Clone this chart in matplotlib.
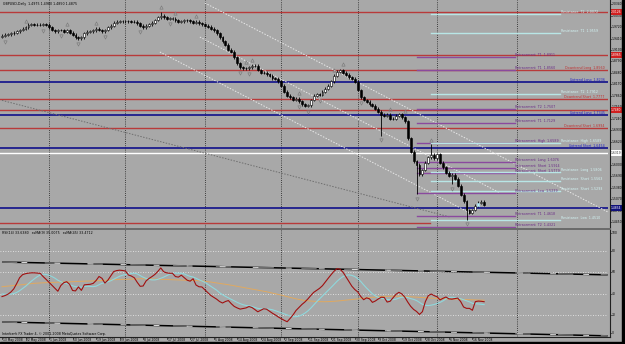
import matplotlib
matplotlib.use("Agg")
import matplotlib.pyplot as plt
from matplotlib.patches import Rectangle
from matplotlib.lines import Line2D
from matplotlib.transforms import blended_transform_factory

# ---------------- data ----------------
title_text = "GBPUSD,Daily  1.4975 1.4980 1.4850 1.4875"
rsi_title = "RSI(14) 33.6380   ssMA(9) 35.0075   ssMA(45) 33.4712"
copyright_text = "Interbank FX Trader 4, \u00a9 2001-2008 MetaQuotes Software Corp."

first_open = 1.946
closes = [
    1.948, 1.951, 1.952, 1.955, 1.957, 1.961, 1.964, 1.968, 1.972, 1.978,
    1.980, 1.978, 1.978, 1.978, 1.979, 1.978, 1.971, 1.964, 1.961, 1.964,
    1.964, 1.959, 1.964, 1.956, 1.951, 1.945, 1.942, 1.945, 1.955, 1.959,
    1.960, 1.963, 1.967, 1.964, 1.960, 1.964, 1.971, 1.975, 1.983, 1.986,
    1.987, 1.988, 1.988, 1.988, 1.986, 1.986, 1.982, 1.975, 1.972, 1.975,
    1.979, 1.983, 1.991, 1.998, 2.002, 1.999, 1.995, 1.995, 1.995, 1.990,
    1.986, 1.988, 1.990, 1.990, 1.987, 1.983, 1.986, 1.982, 1.979, 1.976,
    1.973, 1.967, 1.963, 1.955, 1.945, 1.934, 1.924, 1.911, 1.905, 1.890,
    1.874, 1.864, 1.861, 1.861, 1.864, 1.868, 1.867, 1.856, 1.849, 1.848,
    1.845, 1.840, 1.834, 1.832, 1.826, 1.813, 1.797, 1.787, 1.783, 1.776,
    1.779, 1.772, 1.763, 1.759, 1.761, 1.775, 1.786, 1.790, 1.789, 1.797,
    1.806, 1.814, 1.826, 1.841, 1.851, 1.856, 1.849, 1.843, 1.837, 1.832,
    1.824, 1.802, 1.783, 1.775, 1.770, 1.763, 1.759, 1.751, 1.743, 1.735,
    1.732, 1.735, 1.724, 1.724, 1.732, 1.737, 1.729, 1.718, 1.672, 1.635,
    1.610, 1.600, 1.575, 1.586, 1.605, 1.621, 1.627, 1.618, 1.629, 1.605,
    1.594, 1.578, 1.570, 1.573, 1.562, 1.543, 1.519, 1.502, 1.478, 1.470,
    1.478, 1.489, 1.497, 1.500, 1.492,
]
high_override = {54: 2.013, 146: 1.656}
low_override = {129: 1.678, 141: 1.521, 153: 1.548, 158: 1.451}
fractal_up = [8, 22, 32, 54, 59, 66, 83, 85, 101, 113, 116, 132, 137, 146]
fractal_down = [1, 14, 20, 26, 35, 47, 57, 81, 84, 101, 104, 108, 122, 129, 141, 153, 158]
highlight_bar = 162

rsi = [
    37.3, 38.2, 39.5, 41.5, 44.5, 49.5, 55.0, 57.8, 58.7, 59.2,
    59.5, 59.5, 59.3, 59.0, 56.0, 53.4, 50.6, 47.8, 45.1, 42.3,
    47.6, 50.3, 51.2, 48.7, 43.0, 42.6, 46.4, 43.1, 48.3, 48.5,
    48.8, 49.6, 52.3, 56.1, 54.4, 49.9, 52.6, 56.7, 60.7, 61.6,
    62.0, 61.7, 61.2, 57.5, 56.5, 54.9, 50.6, 46.9, 47.2, 51.9,
    54.2, 56.0, 58.0, 60.8, 64.1, 60.5, 59.5, 59.1, 59.1, 56.0,
    55.5, 57.3, 55.0, 52.6, 51.7, 54.0, 48.1, 46.5, 46.3, 43.7,
    41.2, 38.4, 36.7, 34.9, 32.7, 31.3, 32.7, 33.6, 30.6, 28.1,
    26.7, 25.6, 26.1, 26.7, 28.0, 27.1, 25.2, 23.1, 24.5, 25.9,
    25.5, 23.6, 21.7, 20.1, 18.2, 16.6, 15.1, 13.8, 16.9, 20.2,
    24.3, 27.1, 29.9, 32.2, 35.0, 38.2, 41.2, 43.1, 45.0, 47.5,
    51.1, 54.6, 58.0, 61.2, 63.4, 62.8, 60.1, 55.8, 51.4, 47.0,
    43.9, 41.7, 37.5, 34.4, 36.1, 35.2, 31.9, 33.2, 35.1, 36.7,
    36.5, 32.2, 32.9, 36.1, 39.4, 41.3, 39.8, 36.8, 32.2, 28.2,
    25.3, 23.4, 20.6, 23.2, 32.6, 38.2, 39.7, 38.2, 37.1, 34.2,
    35.7, 36.9, 35.2, 34.9, 35.4, 35.9, 32.7, 27.6, 26.3, 26.3,
    24.5, 32.6, 33.1, 32.9, 32.5,
]
ma9 = [
    39.7, 39.5, 39.4, 39.6, 40.1, 41.2, 42.8, 44.8, 46.9, 49.3,
    51.7, 53.9, 55.9, 57.5, 58.2, 58.0, 57.2, 56.0, 54.5, 52.6,
    51.2, 50.2, 49.4, 48.6, 47.4, 46.5, 46.4, 46.1, 46.8, 46.9,
    46.7, 46.6, 47.0, 48.4, 49.7, 50.1, 51.2, 52.1, 53.5, 54.9,
    56.3, 57.3, 57.9, 58.2, 58.9, 59.2, 58.5, 57.0, 55.4, 54.3,
    53.4, 52.9, 52.9, 53.4, 54.4, 55.5, 56.9, 58.2, 59.0, 59.2,
    59.2, 59.1, 58.5, 57.2, 56.2, 55.6, 54.4, 53.0, 51.9, 50.6,
    48.8, 46.9, 45.2, 43.3, 40.9, 39.1, 37.5, 36.1, 34.7, 33.2,
    31.9, 30.7, 29.7, 29.0, 28.7, 28.1, 27.1, 26.3, 25.9, 25.8,
    25.8, 25.5, 25.0, 24.1, 23.1, 22.1, 21.2, 20.1, 19.1, 18.5,
    18.5, 19.1, 20.2, 21.8, 23.8, 26.4, 29.4, 32.4, 35.1, 37.7,
    40.4, 43.1, 46.0, 48.9, 51.7, 54.1, 56.0, 57.2, 57.6, 57.1,
    56.0, 54.1, 51.5, 48.3, 45.3, 42.6, 39.9, 37.9, 36.6, 35.8,
    35.2, 34.6, 34.4, 34.4, 34.9, 35.9, 36.7, 36.9, 36.4, 35.4,
    34.7, 33.6, 31.9, 30.1, 29.1, 28.9, 29.3, 29.9, 30.9, 31.9,
    33.3, 35.1, 36.4, 36.7, 36.4, 35.9, 35.3, 34.3, 33.4, 32.4,
    31.0, 30.7, 30.5, 30.2, 29.8,
]
ma45 = [
    46.5, 46.8, 47.1, 47.4, 47.7, 48.0, 48.3, 48.6, 48.9, 49.2,
    49.5, 49.7, 49.9, 50.1, 50.2, 50.3, 50.4, 50.5, 50.6, 50.7,
    50.8, 50.9, 51.0, 51.1, 51.2, 51.3, 51.4, 51.5, 51.6, 51.7,
    51.8, 51.9, 52.0, 52.2, 52.4, 52.6, 52.8, 53.0, 53.1, 53.2,
    53.3, 53.4, 53.5, 53.6, 53.7, 53.8, 53.9, 54.0, 54.0, 54.0,
    53.9, 53.8, 53.7, 53.6, 53.5, 53.4, 53.3, 53.2, 53.1, 53.0,
    52.9, 52.8, 52.7, 52.6, 52.5, 52.4, 52.3, 52.2, 52.0, 51.7,
    51.3, 50.9, 50.5, 50.1, 49.7, 49.3, 48.9, 48.4, 47.9, 47.4,
    46.9, 46.4, 45.9, 45.4, 44.9, 44.4, 43.9, 43.4, 42.9, 42.4,
    41.8, 41.2, 40.6, 40.0, 39.3, 38.6, 37.9, 37.2, 36.5, 35.8,
    35.2, 34.6, 34.1, 33.7, 33.4, 33.1, 32.9, 32.7, 32.6, 32.5,
    32.5, 32.6, 32.7, 32.9, 33.1, 33.4, 33.7, 34.0, 34.3, 34.6,
    34.9, 35.2, 35.5, 35.8, 36.1, 36.4, 36.7, 37.0, 37.2, 37.4,
    37.5, 37.6, 37.7, 37.7, 37.7, 37.6, 37.5, 37.4, 37.3, 37.2,
    37.0, 36.8, 36.6, 36.4, 36.2, 36.0, 35.8, 35.6, 35.5, 35.4,
    35.3, 35.2, 35.1, 35.0, 34.9, 34.8, 34.7, 34.6, 34.5, 34.4,
    34.3, 34.2, 34.1, 34.0, 33.9,
]

# x-axis labels (bar index, text)
xlabel_idx = [0, 8, 16, 24, 32, 40, 48, 56, 64, 72, 80, 88, 96, 104, 112, 120, 128, 136, 144, 152, 160]
xlabel_txt = ["13 May 2008", "22 May 2008", "1 Jun 2008", "10 Jun 2008", "19 Jun 2008",
              "29 Jun 2008", "8 Jul 2008", "17 Jul 2008", "27 Jul 2008", "5 Aug 2008",
              "14 Aug 2008", "24 Aug 2008", "2 Sep 2008", "11 Sep 2008", "21 Sep 2008",
              "30 Sep 2008", "9 Oct 2008", "19 Oct 2008", "28 Oct 2008", "6 Nov 2008",
              "16 Nov 2008"]
month_separators = [16, 42, 69, 95, 121, 148, 175]

price_ticks = [2.0340, 2.0030, 1.9720, 1.9410, 1.9100, 1.8790, 1.8480, 1.8170, 1.7860,
               1.7550, 1.7240, 1.6930, 1.6620, 1.6310, 1.6000, 1.5690, 1.5380, 1.5070,
               1.4760, 1.4450]
rsi_levels = [80, 60, 40, 20]
rsi_ticks = [100, 80, 60, 40, 20, 0]

red_lines = [2.0126, 1.8965, 1.8560, 1.7777, 1.7480, 1.6994]
blue_lines = [1.8236, 1.7345, 1.6454, 1.4834]
white_lines = [1.6319]
red_short_line = 1.4429
red_short_end = 145.6

red_boxes = [2.0126, 1.8965, 1.7480]
white_boxes = [1.6319]
navy_boxes = [1.4834]

retr_tags = ["T1", "T1", "T2", "T1", "High", "Long", "Short", "Short", "Low", "T1", "T2"]
retr_prices = [1.8911, 1.8560, 1.7507, 1.7129, 1.6589, 1.6076, 1.5914, 1.5779, 1.5239, 1.4618, 1.4321]
retr_span = (141.2, 174.5)

res_tags = ["T2", "T1", "T2", "High", "Long", "Short", "Short", "Low"]
res_prices = [2.0072, 1.9559, 1.7912, 1.6589, 1.5806, 1.5563, 1.5293, 1.4510]
res_span = (145.9, 189.8)

trend_names = ["Downtrend Long", "Uptrend Long", "Downtrend Short", "Uptrend Long",
               "Downtrend Short", "Uptrend Short"]
trend_prices = [1.8560, 1.8236, 1.7777, 1.7345, 1.6994, 1.6454]
trend_kind = ["down", "up", "down", "up", "down", "up"]

# channel lines: (bar0, price0, bar1, price1)
channel_white = [(69.0, 2.0369, 206.1, 1.4726),
                 (67.3, 1.9450, 169.4, 1.5240),
                 (53.7, 1.9046, 159.2, 1.4699)]
channel_gray = [(0.0, 1.7740, 152.4, 1.4590)]
rsi_channel = [(0.0, 69.6, 206.0, 57.6), (0.0, 13.6, 206.0, 0.6)]

# ---------------- layout ----------------
W, H = 625, 344
BG = "#a8a8a8"
FS = 2.3
FSA = 2.2
PX = 2.94          # pixels per bar
X0 = 2.0           # pixel of bar 0
YTOP, YBOT = 2.045, 1.4294


def fx(p):
    return p / W


def fy(p):
    return 1 - p / H


fig = plt.figure(figsize=(W / 100, H / 100), dpi=100)
fig.patch.set_facecolor(BG)

ax = fig.add_axes([0, fy(228), fx(608), 228 / H])
axr = fig.add_axes([0, fy(337), fx(608), (337 - 229) / H])
for a in (ax, axr):
    a.set_facecolor(BG)
    a.set_xticks([])
    a.set_yticks([])
    for s in a.spines.values():
        s.set_visible(False)
    a.set_xlim((0 - X0) / PX, (608 - X0) / PX)

ax.set_ylim(YBOT, YTOP)
axr.set_ylim(-0.47, 100.47)

n = len(closes)
opens = [first_open] + closes[:-1]

# period separators
for a in (ax, axr):
    for m in month_separators:
        a.axvline(m, color="#1a1a1a", lw=0.6, ls=(0, (1, 1.6)), zorder=1)

# horizontal levels
for v in red_lines:
    ax.axhline(v, color="#b83a3a", lw=1.0, zorder=2)
for v in blue_lines:
    ax.axhline(v, color="#10108a", lw=1.2, zorder=2)
for v in white_lines:
    ax.axhline(v, color="#ffffff", lw=1.0, zorder=2)
ax.plot([ax.get_xlim()[0], red_short_end], [red_short_line] * 2, color="#b83a3a", lw=1.0, zorder=2)

# channel lines
for b0, p0, b1, p1 in channel_white:
    ax.plot([b0, b1], [p0, p1], color="#e8e8e8", lw=0.7, ls=(0, (1.5, 1.5)), zorder=2)
for b0, p0, b1, p1 in channel_gray:
    ax.plot([b0, b1], [p0, p1], color="#6e6e6e", lw=0.7, ls=(0, (1.5, 1.5)), zorder=2)

# retracement (purple) and resistance (cyan) partial lines with labels
for tag, p in zip(retr_tags, retr_prices):
    ax.plot(retr_span, [p, p], color="#8a4a9e", lw=1.0, zorder=3)
    ax.text(retr_span[1], p + 0.001, f"Retracement  {tag}  {p:.4f}", color="#6a2a86",
            fontsize=FS, ha="left", va="bottom", zorder=4)
for tag, p in zip(res_tags, res_prices):
    ax.plot(res_span, [p, p], color="#b8e6e6", lw=1.0, zorder=3)
    ax.text(res_span[1] + 0.5, p + 0.001, f"Resistance  {tag}  {p:.4f}", color="#d4f6f6",
            fontsize=FS, ha="left", va="bottom", zorder=4)
for name, p, k in zip(trend_names, trend_prices, trend_kind):
    ax.text(205.0, p + 0.001, f"{name}  {p:.4f}", color="#c03030" if k == "down" else "#2020c8",
            fontsize=FS, ha="right", va="bottom", zorder=4)

# candles
for i in range(n):
    o, c = opens[i], closes[i]
    hi = high_override.get(i, max(o, c) + 0.004)
    lo = low_override.get(i, min(o, c) - 0.004)
    ax.vlines(i, lo, hi, color="black", lw=0.6, zorder=5)
    bottom = min(o, c)
    height = max(abs(c - o), 0.0008)
    if i == highlight_bar:
        fc = "#bfeffa"
        ec = "#9adcf0"
    else:
        fc = "white" if c >= o else "black"
        ec = "black"
    ax.add_patch(Rectangle((i - 0.32, bottom), 0.64, height, facecolor=fc, edgecolor=ec,
                           lw=0.4, zorder=6))

# fractal markers
for i in fractal_up:
    hi = high_override.get(i, max(opens[i], closes[i]) + 0.004)
    ax.plot(i, hi + 0.012, marker="^", ms=2.4, mfc="none", mec="#7a7a7a", mew=0.45, zorder=6)
for i in fractal_down:
    lo = low_override.get(i, min(opens[i], closes[i]) - 0.004)
    ax.plot(i, lo - 0.012, marker="v", ms=2.4, mfc="none", mec="#7a7a7a", mew=0.45, zorder=6)

# title
fig.text(fx(3), fy(4.5), title_text, fontsize=FS, color="black", ha="left", va="center")

# ---------------- RSI pane ----------------
for lv in rsi_levels:
    axr.axhline(lv, color="#f0f0f0", lw=0.6, ls=(0, (1, 2)), zorder=1)
for b0, v0, b1, v1 in rsi_channel:
    axr.plot([b0, b1], [v0, v1], color="black", lw=1.1, zorder=2, solid_capstyle="butt")
    axr.plot([b0, b1], [v0, v1], color="#6e6e6e", lw=1.1, ls=(0, (10, 18)), zorder=3)
    axr.plot([b0, b1], [v0, v1], color="#dcdcdc", lw=0.7, ls=(14, (6, 28)), zorder=3)
xs = list(range(n))
axr.plot(xs, ma45, color="#e0a860", lw=0.7, zorder=4)
axr.plot(xs, ma9, color="#8fd8dc", lw=0.8, zorder=5)
axr.plot(xs, rsi, color="#a01010", lw=0.8, zorder=6)
fig.text(fx(2), fy(233), rsi_title, fontsize=FS, color="black", ha="left", va="center")
fig.text(fx(2), fy(334), copyright_text, fontsize=FS, color="black", ha="left", va="center")

# ---------------- frame / axes lines ----------------
fig.add_artist(Line2D([fx(609.5)] * 2, [fy(0), fy(337)], color="#202020", lw=0.8))
fig.add_artist(Line2D([0, fx(609.5)], [fy(228.7)] * 2, color="#6a6a6a", lw=1.4))
fig.add_artist(Line2D([0, fx(609.5)], [fy(337)] * 2, color="#202020", lw=0.8))
fig.add_artist(Rectangle((fx(622), 0), fx(3), 1, transform=fig.transFigure, color="black"))
fig.add_artist(Rectangle((0, 0), 1, 2 / H, transform=fig.transFigure, color="black"))

# right price axis
tm = blended_transform_factory(fig.transFigure, ax.transData)
for v in price_ticks:
    ax.text(fx(611.5), v, f"{v:.4f}", transform=tm, fontsize=FSA, color="black",
            ha="left", va="center", clip_on=False)
    ax.plot([fx(609.5), fx(611)], [v, v], transform=tm, color="#202020", lw=0.5, clip_on=False)


def box(v, fc, tc):
    ax.text(fx(611), v, f"{v:.4f}", transform=tm, fontsize=FSA, color=tc, ha="left",
            va="center", clip_on=False, zorder=10,
            bbox=dict(boxstyle="square,pad=0.3", facecolor=fc, edgecolor="none"))


for v in red_boxes:
    box(v, "#d02020", "white")
for v in white_boxes:
    box(v, "white", "#303030")
for v in navy_boxes:
    box(v, "#10107a", "white")

tr = blended_transform_factory(fig.transFigure, axr.transData)
for v in rsi_ticks:
    yv = min(max(v, 3), 97)
    axr.text(fx(612), yv, f"{v}", transform=tr, fontsize=FSA, color="black",
             ha="left", va="center", clip_on=False)
    axr.plot([fx(609.5), fx(611)], [yv, yv], transform=tr, color="#202020", lw=0.5, clip_on=False)

# x labels
tx = blended_transform_factory(axr.transData, fig.transFigure)
for i, t in zip(xlabel_idx, xlabel_txt):
    axr.text(i + 0.3, fy(340), t, transform=tx, fontsize=FSA, color="black",
             ha="left", va="center", clip_on=False)
    axr.plot([i, i], [fy(337), fy(339)], transform=tx, color="#202020", lw=0.5, clip_on=False)

fig.savefig("out.png", dpi=100, facecolor=BG)
